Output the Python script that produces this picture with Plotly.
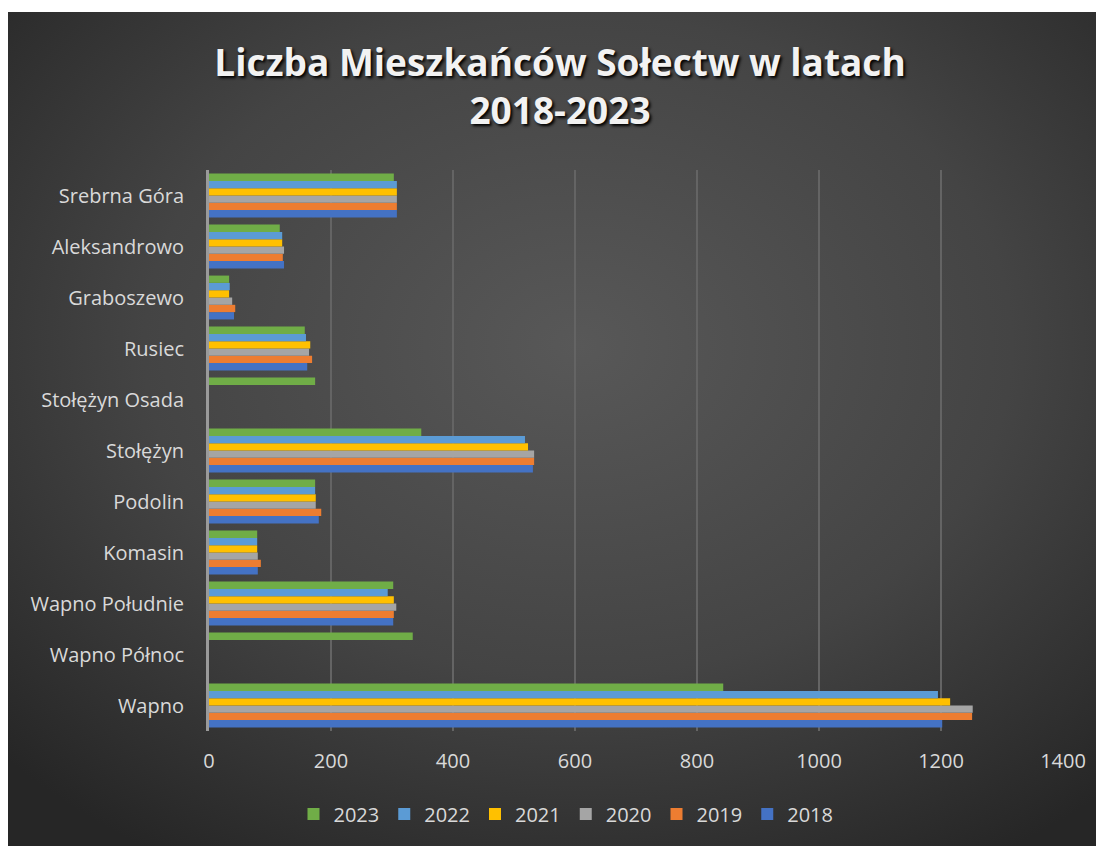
import base64
import plotly.graph_objects as go

# categories from bottom to top (plotly puts the first category at the bottom)
solectwa = ["Wapno", "Wapno Północ", "Wapno Południe", "Komasin", "Podolin",
            "Stołężyn", "Stołężyn Osada", "Rusiec", "Graboszewo", "Aleksandrowo",
            "Srebrna Góra"]

y2018 = [1202, None, 302, 80, 180, 531, None, 161, 41, 123, 308]
y2019 = [1251, None, 303, 85, 184, 533, None, 169, 43, 121, 308]
y2020 = [1252, None, 307, 80, 175, 533, None, 164, 38, 123, 308]
y2021 = [1215, None, 303, 79, 175, 523, None, 166, 33, 120, 308]
y2022 = [1195, None, 293, 79, 174, 518, None, 159, 34, 120, 308]
y2023 = [843, 334, 302, 79, 174, 348, 174, 157, 33, 116, 303]

lata = ["2018", "2019", "2020", "2021", "2022", "2023"]
serie = [y2018, y2019, y2020, y2021, y2022, y2023]
kolory = ["#4472C4", "#ED7D31", "#A5A5A5", "#FFC000", "#5B9BD5", "#70AD47"]

# the page body adds an 8px margin, so the figure itself is 8px smaller
OFF = 8
W, H = 1104 - OFF, 846 - OFF
L, T = 209 - OFF, 170 - OFF
pw, ph = 854, 561
R, B = W - L - pw, H - T - ph

# dark radial background like the Excel chart style
svg = """<svg xmlns='http://www.w3.org/2000/svg' width='1096' height='834'>
<defs><radialGradient id='g' cx='0.52' cy='0.4' r='0.72'>
<stop offset='0' stop-color='#585858'/><stop offset='0.55' stop-color='#444444'/>
<stop offset='1' stop-color='#262626'/></radialGradient></defs>
<rect width='1096' height='834' fill='url(#g)'/></svg>"""
bg_src = "data:image/svg+xml;base64," + base64.b64encode(svg.encode()).decode()

fig = go.Figure()
for rok, vals, kol in zip(lata, serie, kolory):
    fig.add_trace(go.Bar(
        y=solectwa, x=vals, name=rok, orientation="h",
        marker=dict(color=kol, line=dict(width=0)),
    ))

fig.update_layout(
    width=W, height=H,
    margin=dict(l=L, r=R, t=T, b=B),
    paper_bgcolor="white",
    plot_bgcolor="rgba(0,0,0,0)",
    barmode="group",
    bargap=0.14,
    bargroupgap=0,
    font=dict(family="Open Sans", color="#d9d9d9", size=18),
    title=dict(
        text="Liczba Mieszkańców Sołectw w latach<br>2018-2023",
        x=(560 - OFF) / W, xanchor="center",
        y=1 - (76 - OFF) / H, yanchor="top",
        font=dict(family="Open Sans", size=37, color="#f2f2f2", weight="bold",
                  shadow="2px 2px 3px #000000"),
    ),
    xaxis=dict(
        range=[0, 1400], dtick=200, tick0=0,
        showgrid=True, gridcolor="#646464", gridwidth=1.5,
        zeroline=False, showline=False, ticks="",
        ticklabelstandoff=16,
        tickfont=dict(size=20, color="#d9d9d9"),
    ),
    yaxis=dict(
        showgrid=False, zeroline=False, ticks="",
        showline=True, linecolor="#9a9a9a", linewidth=3,
        ticklabelstandoff=18,
        tickfont=dict(size=20, color="#d9d9d9"),
    ),
    legend=dict(
        orientation="h", traceorder="reversed",
        x=(566 - 209) / pw, xanchor="center",
        y=-(814 - 731) / ph, yanchor="middle",
        font=dict(size=20, color="#d9d9d9"),
        bgcolor="rgba(0,0,0,0)",
    ),
    images=[dict(
        source=bg_src, xref="paper", yref="paper",
        x=(0 - L) / pw, y=(T + ph - (12 - OFF)) / ph,
        sizex=W / pw, sizey=(H - (12 - OFF)) / ph,
        xanchor="left", yanchor="top", sizing="stretch", layer="below",
    )],
)

fig.write_html("out.html")
